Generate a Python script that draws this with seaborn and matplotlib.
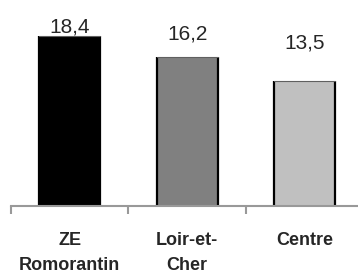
import matplotlib
matplotlib.use('Agg')
import pandas as pd
import seaborn as sns
import matplotlib.pyplot as plt
from matplotlib.ticker import FixedLocator

categories = ["ZE\nRomorantin", "Loir-et-\nCher", "Centre"]
values = [18.4, 16.2, 13.5]
value_labels = ["18,4", "16,2", "13,5"]
bar_colors = ["#000000", "#808080", "#c0c0c0"]
label_offsets = [3, 12, 24]  # points above bar top, as in the original

df = pd.DataFrame({"zone": categories, "val": values})

sns.set_style("white")
plt.rcParams['font.family'] = ['Liberation Sans', 'DejaVu Sans']

fig = plt.figure(figsize=(3.58, 2.73), dpi=100)
ax = fig.add_axes([11 / 358, 67 / 273, 352.5 / 358, 203 / 273])

sns.barplot(data=df, x="zone", y="val", hue="zone", palette=bar_colors,
            width=0.52, linewidth=0, legend=False, ax=ax)

for p, lab, off in zip(ax.patches, value_labels, label_offsets):
    x0, w, h = p.get_x(), p.get_width(), p.get_height()
    ax.plot([x0, x0], [0, h], color="black", lw=1.6, solid_capstyle="butt")
    ax.plot([x0 + w, x0 + w], [0, h], color="black", lw=1.6, solid_capstyle="butt")
    ax.plot([x0, x0 + w], [h, h], color="#606060", lw=0.8)
    ax.annotate(lab, (x0 + w / 2, h), xytext=(0, off), textcoords="offset points",
                ha="center", va="baseline", fontsize=15, zorder=5)

ax.set_xlim(-0.5, 2.5)
ax.set_ylim(0, 22)
ax.set_xlabel("")
ax.set_ylabel("")
ax.set_yticks([])

ax.xaxis.set_minor_locator(FixedLocator([-0.5, 0.5, 1.5, 2.5]))
ax.tick_params(axis="x", which="major", length=0, pad=19)
ax.tick_params(axis="x", which="minor", length=6, width=1.5, color="#999999", direction="out", bottom=True)
for t in ax.get_xticklabels():
    t.set_fontweight("bold")
    t.set_fontsize(13)
    t.set_linespacing(1.6)

sns.despine(ax=ax, left=True, top=True, right=True)
ax.spines["bottom"].set_color("#999999")
ax.spines["bottom"].set_linewidth(1.5)

fig.savefig("out.png", dpi=100)
